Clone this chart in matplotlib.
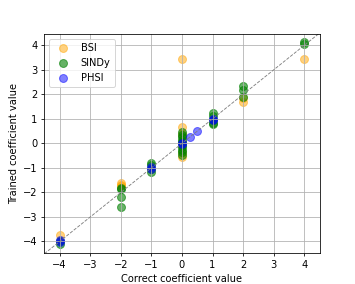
import numpy as np
import matplotlib
matplotlib.use("Agg")
import matplotlib.pyplot as plt

# valores correctos vs entrenados
bsi_x = [-4, -2, -2, -2, 0, 0, 0, 0, 0, 2, 2, 4]
bsi_y = [-3.72, -1.6, -1.68, -1.75, 3.46, 0.67, 0.4, -0.4, -0.55, 1.85, 1.7, 3.45]

sindy_x = [-4, -4, -2, -2, -2, -2, -1, -1, -1, -1,
           0, 0, 0, 0, 0, 0, 0, 0, 0, 0,
           1, 1, 1, 1, 1, 2, 2, 2, 4, 4]
sindy_y = [-4.0, -4.1, -1.8, -1.85, -2.2, -2.6, -0.78, -0.9, -1.05, -1.15,
           0.45, 0.35, 0.25, 0.15, 0.05, -0.05, -0.15, -0.25, -0.35, -0.47,
           1.25, 1.1, 0.95, 0.85, 0.78, 2.33, 2.18, 1.9, 4.15, 4.05]

phsi_x = [-4, -4, -1, -1, 0, 0, 0.25, 0.5, 1, 1]
phsi_y = [-3.93, -4.03, -0.98, -1.06, 0.0, -0.03, 0.25, 0.5, 1.0, 0.96]

fig = plt.figure(figsize=(5, 4), dpi=71)
ax = plt.gca()

ax.scatter(bsi_x, bsi_y, color='orange', alpha=0.5, s=65, label="BSI")
ax.scatter(sindy_x, sindy_y, color='green', alpha=0.6, s=65, label="SINDy")
ax.scatter(phsi_x, phsi_y, color='blue', alpha=0.5, s=65, label="PHSI")

lim = np.array([-4.5, 4.5])
ax.plot(lim, lim, '--', color='gray', linewidth=0.9)

ax.set_xlim(-4.5, 4.5)
ax.set_ylim(-4.46, 4.46)
ax.set_xticks(range(-4, 5))
ax.set_yticks(range(-4, 5))
ax.grid(True)
ax.set_xlabel("Correct coefficient value")
ax.set_ylabel("Trained coefficient value")
ax.legend(loc='upper left')

plt.savefig("out.png", dpi=71)
